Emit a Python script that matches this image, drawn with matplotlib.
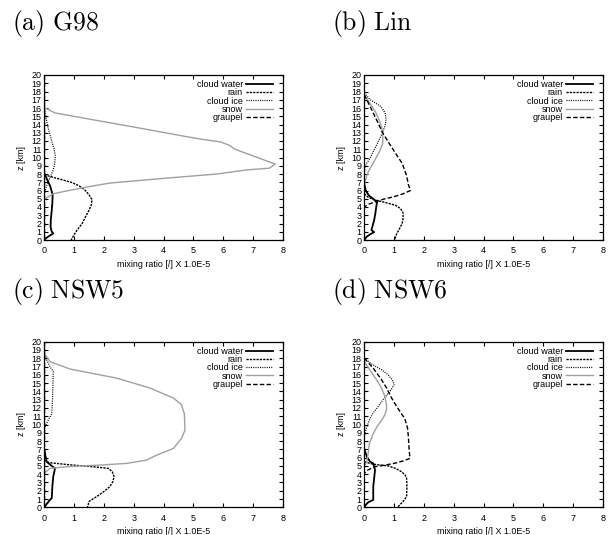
import numpy as np
import matplotlib
matplotlib.use('Agg')
import matplotlib.pyplot as plt

plt.rcParams['font.family'] = ['Liberation Sans', 'DejaVu Sans']
plt.rcParams['mathtext.fontset'] = 'cm'

# profiles as (z [km], mixing ratio x 1e-5)
g98_water = [(8.1, 0.0), (7.3, 0.1), (6.5, 0.2), (5.5, 0.28), (4.5, 0.27), (3.6, 0.25), (2.5, 0.22),
             (1.6, 0.21), (1.0, 0.25), (0.8, 0.3), (0.5, 0.17), (0.2, 0.05), (0.0, 0.0)]
g98_rain = [(7.9, 0.0), (7.5, 0.4), (7.0, 0.9), (6.6, 1.15), (6.1, 1.35), (5.5, 1.5), (4.9, 1.6), (4.3, 1.58),
            (3.6, 1.5), (2.8, 1.38), (2.0, 1.27), (1.2, 1.1), (0.5, 0.98), (0.0, 0.9)]
g98_ice = [(15.9, 0.0), (15.0, 0.05), (14.0, 0.1), (13.0, 0.17), (12.0, 0.25), (11.0, 0.33), (10.2, 0.37),
           (9.3, 0.35), (8.5, 0.3), (7.8, 0.22), (7.2, 0.15), (6.6, 0.08), (6.0, 0.03), (5.5, 0.0)]
g98_snow = [(16.05, 0.0), (15.4, 0.36), (14.5, 1.75), (13.5, 3.3), (12.6, 4.66), (12.2, 5.3), (11.9, 5.9),
            (11.5, 6.2), (11.0, 6.4), (9.2, 7.75), (8.7, 7.55), (8.5, 6.8), (8.0, 5.8), (7.5, 4.1), (6.9, 2.2),
            (6.5, 1.55), (5.95, 0.75), (5.6, 0.3), (4.95, 0.0)]
g98_graupel = [(20.0, 0.0), (0.0, 0.0)]

lin_water = [(6.8, 0.0), (6.0, 0.05), (5.4, 0.15), (4.9, 0.33), (4.6, 0.43), (4.0, 0.4), (3.2, 0.37),
             (2.4, 0.33), (1.6, 0.27), (1.2, 0.24), (0.95, 0.33), (0.7, 0.2), (0.4, 0.08), (0.0, 0.0)]
lin_rain = [(5.6, 0.0), (5.2, 0.12), (4.85, 0.35), (4.55, 0.7), (4.2, 1.05), (3.8, 1.22), (3.3, 1.3),
            (2.6, 1.3), (2.0, 1.27), (1.3, 1.17), (0.7, 1.08), (0.0, 1.02)]
lin_ice = [(17.8, 0.0), (17.0, 0.2), (16.2, 0.55), (15.4, 0.7), (14.6, 0.73), (13.9, 0.7), (13.1, 0.62),
           (12.3, 0.52), (11.5, 0.41), (10.7, 0.3), (9.9, 0.19), (9.3, 0.08), (8.8, 0.02), (8.0, 0.0)]
lin_snow = [(17.6, 0.0), (16.5, 0.2), (15.5, 0.38), (14.5, 0.5), (13.7, 0.58), (12.8, 0.62), (11.7, 0.62),
            (10.8, 0.52), (10.0, 0.4), (9.2, 0.28), (8.5, 0.17), (7.8, 0.08), (7.0, 0.02), (6.5, 0.0)]
lin_graupel = [(17.6, 0.0), (16.0, 0.22), (14.5, 0.42), (13.1, 0.6), (11.8, 0.82), (10.5, 1.05), (9.3, 1.27),
               (8.5, 1.35), (7.8, 1.42), (6.7, 1.48), (6.0, 1.55), (5.6, 1.3), (5.25, 1.0), (4.95, 0.65),
               (4.65, 0.4), (4.35, 0.15), (4.0, 0.0)]

nsw5_water = [(7.0, 0.0), (6.2, 0.04), (5.5, 0.08), (5.0, 0.25), (4.7, 0.36), (3.7, 0.3), (2.5, 0.27),
              (1.1, 0.25), (0.9, 0.19), (0.3, 0.06), (0.0, 0.0)]
nsw5_rain = [(5.7, 0.0), (5.4, 0.15), (5.15, 0.8), (4.9, 1.64), (4.7, 2.15), (4.3, 2.28), (3.7, 2.34),
             (3.1, 2.3), (2.5, 2.2), (1.9, 2.0), (1.3, 1.76), (0.7, 1.5), (0.0, 1.45)]
nsw5_ice = [(18.6, 0.0), (17.8, 0.08), (17.0, 0.19), (16.4, 0.3), (15.0, 0.29), (13.4, 0.28), (11.3, 0.25),
            (10.5, 0.13), (9.7, 0.02), (9.0, 0.0)]
nsw5_snow = [(18.6, 0.0), (17.6, 0.19), (16.7, 0.86), (15.6, 2.43), (14.4, 3.55), (13.2, 4.33), (12.4, 4.6),
             (11.3, 4.7), (9.3, 4.72), (8.3, 4.6), (7.1, 4.33), (6.3, 3.77), (5.7, 3.43), (5.3, 2.76),
             (5.1, 1.87), (4.9, 0.75), (4.7, 0.19), (4.3, 0.06), (4.1, 0.0)]
nsw5_graupel = [(20.0, 0.0), (0.0, 0.0)]

nsw6_water = [(7.0, 0.0), (6.0, 0.1), (5.5, 0.2), (5.3, 0.3), (4.5, 0.36), (3.5, 0.33), (2.5, 0.3),
              (0.9, 0.3), (0.6, 0.13), (0.3, 0.05), (0.0, 0.0)]
nsw6_rain = [(5.5, 0.0), (5.2, 0.3), (5.0, 0.8), (4.7, 1.05), (4.3, 1.25), (3.9, 1.37), (3.5, 1.42),
             (2.5, 1.43), (1.3, 1.42), (0.7, 1.3), (0.1, 1.14), (0.0, 1.12)]
nsw6_ice = [(18.0, 0.0), (17.3, 0.25), (16.6, 0.58), (16.0, 0.8), (15.4, 0.94), (14.8, 1.0), (14.0, 0.86),
            (13.1, 0.65), (12.2, 0.47), (11.4, 0.3), (10.7, 0.19), (9.7, 0.08), (9.0, 0.02), (8.5, 0.0)]
nsw6_snow = [(17.6, 0.0), (16.5, 0.2), (15.4, 0.41), (14.4, 0.58), (13.4, 0.69), (12.5, 0.74), (11.8, 0.75),
             (11.1, 0.68), (10.5, 0.58), (9.7, 0.42), (8.9, 0.3), (7.7, 0.17), (6.5, 0.13), (5.5, 0.08),
             (5.0, 0.0)]
nsw6_graupel = [(18.0, 0.0), (16.8, 0.3), (15.4, 0.58), (14.4, 0.75), (13.3, 0.9), (12.2, 1.08), (10.7, 1.36),
                (9.6, 1.45), (8.5, 1.48), (7.2, 1.5), (5.9, 1.53), (5.6, 1.3), (5.3, 1.0), (5.1, 0.7),
                (4.9, 0.36), (4.5, 0.12), (4.1, 0.0)]

titles = ['(a)\\ G98', '(b)\\ Lin', '(c)\\ NSW5', '(d)\\ NSW6']
panels = [
    [g98_water, g98_rain, g98_ice, g98_snow, g98_graupel],
    [lin_water, lin_rain, lin_ice, lin_snow, lin_graupel],
    [nsw5_water, nsw5_rain, nsw5_ice, nsw5_snow, nsw5_graupel],
    [nsw6_water, nsw6_rain, nsw6_ice, nsw6_snow, nsw6_graupel],
]
species = ['cloud water', 'rain', 'cloud ice', 'snow', 'graupel']
styles = [
    dict(color='black', lw=1.3, ls='-'),
    dict(color='black', lw=1.0, ls=(0, (1.6, 0.8))),
    dict(color='black', lw=0.9, ls=(0, (0.8, 1.0))),
    dict(color='#a0a0a0', lw=1.0, ls='-'),
    dict(color='black', lw=1.0, ls=(0, (3.2, 1.6))),
]

W, H = 614, 535
fig = plt.figure(figsize=(W / 100, H / 100), dpi=100)

# axes boxes in pixels: left, top, right, bottom
boxes = [(44.3, 75, 282.7, 240), (364.3, 75, 602.7, 240),
         (44.3, 341.7, 282.7, 507.3), (364.3, 341.7, 602.7, 507.3)]
title_pos = [(12, 30), (332, 30), (12, 298), (332, 298)]

for i, (l, t, r, b) in enumerate(boxes):
    ax = fig.add_axes([l / W, 1 - b / H, (r - l) / W, (b - t) / H])
    for prof, name, st in zip(panels[i], species, styles):
        z = np.array([p[0] for p in prof])
        x = np.array([p[1] for p in prof])
        ax.plot(x, z, label=name, **st)
    ax.set_xlim(0, 8)
    ax.set_ylim(0, 20)
    ax.set_xticks(np.arange(0, 9, 1))
    ax.set_yticks(np.arange(0, 21, 1))
    ax.tick_params(direction='in', top=True, right=True, length=3, width=0.8, labelsize=6.5)
    ax.tick_params(axis='x', pad=4.5)
    ax.tick_params(axis='y', pad=2)
    for s in ax.spines.values():
        s.set_linewidth(0.9)
    ax.set_xlabel('mixing ratio [/] X 1.0E-5', fontsize=6.4, labelpad=3.2)
    ax.set_ylabel('z [km]', fontsize=6.4, labelpad=4)
    ax.legend(loc='upper right', frameon=False, markerfirst=False, fontsize=6.5,
              handlelength=3.0, handletextpad=0.3, labelspacing=-0.08, borderpad=0,
              borderaxespad=0, bbox_to_anchor=(1 - 10 / 238.4, 1 - 5 / 165))
    tx, ty = title_pos[i]
    fig.text(tx / W, 1 - ty / H, '$\\mathrm{' + titles[i] + '}$', fontsize=18.5, va='baseline', ha='left')

fig.savefig('out.png', dpi=100)
